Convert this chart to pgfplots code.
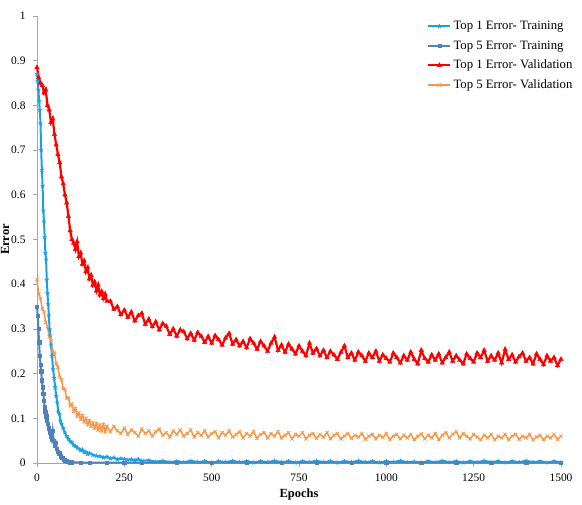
\documentclass[border=0pt]{standalone}
\usepackage{fontspec}
\setmainfont{Liberation Serif}
\usepackage{pgfplots}
\usepackage{pgfplotstable}
\pgfplotsset{compat=1.18}
\definecolor{lblue}{HTML}{1BA1E2}
\definecolor{dblue}{HTML}{4F81BD}
\definecolor{vred}{HTML}{FF0000}
\definecolor{vorange}{HTML}{F79646}
\definecolor{axgray}{HTML}{A6A6A6}

\pgfplotstableread{
x y
0 0.870
2 0.855
4 0.835
6 0.810
8 0.790
10 0.760
12 0.700
14 0.655
16 0.620
18 0.565
20 0.540
22 0.505
24 0.470
26 0.455
28 0.410
30 0.380
32 0.355
34 0.330
36 0.300
38 0.285
40 0.265
43 0.240
46 0.210
49 0.190
52 0.170
55 0.150
58 0.135
61 0.115
64 0.110
67 0.095
70 0.088
75 0.078
80 0.068
85 0.060
90 0.054
95 0.048
100 0.046
105 0.040
110 0.038
115 0.034
120 0.032
125 0.028
130 0.030
135 0.024
140 0.025
145 0.020
150 0.022
160 0.018
170 0.016
180 0.015
190 0.012
200 0.014
210 0.010
220 0.012
230 0.008
240 0.010
250 0.009
260 0.007
270 0.008
280 0.006
290 0.008
300 0.005
320 0.006
340 0.003
360 0.005
380 0.002
400 0.004
420 0.002
440 0.005
460 0.002
480 0.004
500 0.001
520 0.004
540 0.002
560 0.005
580 0.002
600 0.004
620 0.001
640 0.004
660 0.002
680 0.005
700 0.002
720 0.004
740 0.001
760 0.004
780 0.002
800 0.005
820 0.002
840 0.004
860 0.001
880 0.004
900 0.002
920 0.005
940 0.002
960 0.004
980 0.001
1000 0.004
1020 0.002
1040 0.005
1060 0.002
1080 0.003
1100 0.001
1120 0.004
1140 0.002
1160 0.005
1180 0.002
1200 0.004
1220 0.001
1240 0.004
1260 0.002
1280 0.005
1300 0.002
1320 0.004
1340 0.001
1360 0.004
1380 0.002
1400 0.005
1420 0.002
1440 0.004
1460 0.001
1480 0.004
1500 0.002
}\topone

\pgfplotstableread{
x y
0 0.350
2 0.330
4 0.300
6 0.270
8 0.240
10 0.220
12 0.205
14 0.185
16 0.170
18 0.155
20 0.140
22 0.125
24 0.115
26 0.105
28 0.095
30 0.088
33 0.078
36 0.068
39 0.060
42 0.052
45 0.072
48 0.050
51 0.040
54 0.045
57 0.032
60 0.025
64 0.022
68 0.015
72 0.012
76 0.008
80 0.006
85 0.004
90 0.003
95 0.002
100 0.002
125 0.001
150 0.001
200 0.001
250 0.001
300 0.001
400 0.001
500 0.001
600 0.001
700 0.001
800 0.001
900 0.001
1000 0.001
1100 0.001
1200 0.001
1300 0.001
1400 0.001
1500 0.001
}\topfive

\pgfplotstableread{
x y
0 0.885
5 0.862
10 0.850
15 0.845
20 0.828
25 0.835
30 0.800
35 0.790
40 0.762
45 0.770
50 0.735
55 0.712
60 0.690
65 0.672
70 0.640
75 0.625
80 0.600
85 0.582
90 0.552
95 0.520
100 0.500
105 0.492
110 0.478
115 0.495
120 0.462
125 0.470
130 0.445
135 0.452
140 0.428
145 0.437
150 0.412
155 0.420
160 0.398
165 0.405
170 0.385
175 0.398
180 0.376
185 0.384
190 0.368
195 0.378
200 0.362
210 0.362
220 0.344
230 0.350
240 0.332
250 0.342
260 0.326
270 0.338
280 0.318
290 0.330
300 0.335
310 0.310
320 0.322
330 0.305
340 0.316
350 0.298
360 0.312
370 0.306
380 0.288
390 0.300
400 0.284
410 0.298
420 0.294
430 0.278
440 0.290
450 0.275
460 0.292
470 0.284
480 0.270
490 0.283
500 0.268
510 0.285
520 0.276
530 0.264
540 0.280
550 0.290
560 0.266
570 0.276
580 0.262
590 0.272
600 0.258
610 0.278
620 0.268
630 0.255
640 0.272
650 0.262
660 0.250
670 0.268
680 0.282
690 0.252
700 0.264
710 0.248
720 0.266
730 0.255
740 0.244
750 0.262
760 0.250
770 0.240
780 0.268
790 0.246
800 0.256
810 0.240
820 0.252
830 0.236
840 0.250
850 0.242
860 0.232
870 0.248
880 0.262
890 0.236
900 0.246
910 0.230
920 0.248
930 0.240
940 0.228
950 0.246
960 0.236
970 0.250
980 0.228
990 0.242
1000 0.234
1010 0.226
1020 0.246
1030 0.236
1040 0.224
1050 0.240
1060 0.230
1070 0.248
1080 0.232
1090 0.222
1100 0.252
1110 0.234
1120 0.226
1130 0.242
1140 0.230
1150 0.244
1160 0.224
1170 0.236
1180 0.248
1190 0.228
1200 0.240
1210 0.230
1220 0.222
1230 0.244
1240 0.234
1250 0.226
1260 0.246
1270 0.236
1280 0.252
1290 0.228
1300 0.240
1310 0.230
1320 0.246
1330 0.224
1340 0.254
1350 0.232
1360 0.242
1370 0.226
1380 0.238
1390 0.246
1400 0.228
1410 0.236
1420 0.222
1430 0.244
1440 0.232
1450 0.220
1460 0.240
1470 0.228
1480 0.236
1490 0.218
1500 0.232
}\valone

\pgfplotstableread{
x y
0 0.410
5 0.378
10 0.368
15 0.345
20 0.338
25 0.315
30 0.305
35 0.282
40 0.274
45 0.250
50 0.246
55 0.222
60 0.214
65 0.192
70 0.186
75 0.166
80 0.164
85 0.145
90 0.146
95 0.128
100 0.132
105 0.115
110 0.122
115 0.105
120 0.112
125 0.098
130 0.106
135 0.092
140 0.100
145 0.086
150 0.095
155 0.082
160 0.090
165 0.078
170 0.088
175 0.074
180 0.085
185 0.072
190 0.086
195 0.070
200 0.082
210 0.070
220 0.082
230 0.072
240 0.066
250 0.078
260 0.064
270 0.074
280 0.068
290 0.060
300 0.076
310 0.066
320 0.072
330 0.060
340 0.070
350 0.076
360 0.062
370 0.068
380 0.058
390 0.072
400 0.064
410 0.074
420 0.060
430 0.066
440 0.074
450 0.058
460 0.068
470 0.062
480 0.072
490 0.058
500 0.066
510 0.070
520 0.056
530 0.068
540 0.062
550 0.072
560 0.058
570 0.064
580 0.070
590 0.056
600 0.066
610 0.060
620 0.070
630 0.055
640 0.064
650 0.068
660 0.056
670 0.066
680 0.060
690 0.070
700 0.056
710 0.062
720 0.068
730 0.054
740 0.064
750 0.060
760 0.068
770 0.054
780 0.062
790 0.066
800 0.055
810 0.064
820 0.058
830 0.068
840 0.054
850 0.062
860 0.066
870 0.054
880 0.060
890 0.066
900 0.055
910 0.062
920 0.058
930 0.066
940 0.053
950 0.060
960 0.064
970 0.054
980 0.062
990 0.057
1000 0.066
1010 0.052
1020 0.060
1030 0.064
1040 0.054
1050 0.062
1060 0.056
1070 0.064
1080 0.052
1090 0.060
1100 0.065
1110 0.054
1120 0.062
1130 0.056
1140 0.066
1150 0.052
1160 0.062
1170 0.068
1180 0.056
1190 0.064
1200 0.070
1210 0.056
1220 0.066
1230 0.060
1240 0.054
1250 0.064
1260 0.058
1270 0.052
1280 0.062
1290 0.056
1300 0.064
1310 0.052
1320 0.060
1330 0.056
1340 0.064
1350 0.052
1360 0.060
1370 0.064
1380 0.053
1390 0.060
1400 0.056
1410 0.064
1420 0.052
1430 0.058
1440 0.062
1450 0.052
1460 0.060
1470 0.056
1480 0.064
1490 0.053
1500 0.060
}\valfive

\begin{document}
\begin{tikzpicture}
\path[use as bounding box] (-37bp,-42bp) rectangle (545bp,463bp);
\begin{axis}[
  at={(0,0)}, anchor=south west,
  scale only axis,
  width=524bp, height=447bp,
  xmin=0, xmax=1500, ymin=0, ymax=1,
  axis x line=bottom, axis y line=left,
  axis line style={-, draw=axgray, line width=0.8pt},
  xtick={0,250,...,1500},
  ytick={0,0.1,...,1.0},
  yticklabels={0,0.1,0.2,0.3,0.4,0.5,0.6,0.7,0.8,0.9,1},
  tick align=outside,
  major tick length=4bp,
  tick style={draw=axgray, line width=0.8pt},
  /pgf/number format/assume math mode=true,
  /pgf/number format/set thousands separator={},
  tick label style={font=\fontsize{11.5}{13}\selectfont},
  yticklabel style={xshift=-4bp},
  xticklabel style={yshift=-3bp},
  xlabel={\textbf{Epochs}},
  ylabel={\textbf{Error}},
  xlabel style={font=\fontsize{12.5}{14}\selectfont, at={(axis description cs:0.5,0)}, anchor=center, yshift=-32bp},
  ylabel style={font=\fontsize{12.5}{14}\selectfont, at={(axis description cs:0,0.5)}, anchor=center, yshift=32bp},
  legend cell align=left,
  legend style={draw=none, fill=none, at={(1.026,0.993)}, anchor=north east,
    font=\fontsize{12.8}{15}\selectfont, row sep=5.5pt, inner sep=0pt},
  legend image code/.code={\draw[mark repeat=2,mark phase=2] plot coordinates {(0bp,0bp)(11bp,0bp)(22bp,0bp)};},
  clip=false,
]
\addplot[color=lblue, line width=2pt, mark=star, mark size=2.2pt, mark options={line width=0.9pt}] table {\topone};
\addlegendentry{Top 1 Error- Training}
\addplot[color=dblue, line width=2pt, mark=square*, mark size=1.7pt, mark options={line width=0.4pt}] table {\topfive};
\addlegendentry{Top 5 Error- Training}
\addplot[color=vred, line width=2.2pt, mark=triangle*, mark size=2.6pt, mark options={line width=0.4pt}] table {\valone};
\addlegendentry{Top 1 Error- Validation}
\addplot[color=vorange, line width=1.5pt, mark=x, mark size=2.3pt, mark options={line width=0.8pt}] table {\valfive};
\addlegendentry{Top 5 Error- Validation}
\end{axis}
\end{tikzpicture}
\end{document}
